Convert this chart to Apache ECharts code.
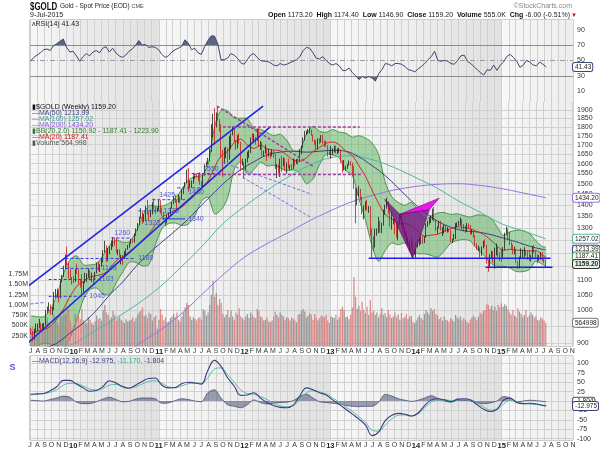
<!DOCTYPE html>
<html><head><meta charset="utf-8">
<script src="https://cdn.jsdelivr.net/npm/echarts@6/dist/echarts.min.js"></script>
<style>html,body{margin:0;padding:0;background:#fff}#c{width:600px;height:450px}</style>
</head><body><div id="c"></div><script>
// ---------- weekly OHLC [open, close, low, high], one row per week starting 2009-07-03 ----------
const ohlc2009 = [[940,932,925,945],[932,912,905,935],[912,937,910,942],[937,952,930,958],[952,954,935,958],
[954,956,944,972],[956,948,938,960],[948,953,935,958],[953,955,938,960],
[955,996,952,1000],[996,1006,990,1011],[1006,1010,996,1025],[1010,990,985,1018],
[990,1003,985,1010],[1003,1050,1000,1060],[1050,1052,1040,1070],[1052,1057,1040,1071],[1057,1040,1025,1064],
[1040,1096,1038,1100],[1096,1116,1094,1119],[1116,1146,1112,1153],[1146,1175,1140,1195],
[1175,1161,1155,1226],[1161,1119,1105,1166],[1119,1111,1105,1140],[1111,1104,1085,1112]];
const ohlc2010 = [[1104,1097,1090,1115],[1097,1138,1095,1140],[1138,1131,1123,1161],[1131,1090,1088,1140],[1090,1083,1075,1105],
[1083,1066,1045,1122],[1066,1093,1060,1097],[1093,1117,1090,1127],[1117,1118,1095,1125],
[1118,1134,1110,1143],[1134,1102,1100,1137],[1102,1107,1095,1128],[1107,1105,1088,1110],
[1105,1126,1100,1130],[1126,1162,1125,1165],[1162,1136,1133,1168],[1136,1154,1130,1158],[1154,1180,1149,1181],
[1180,1209,1165,1212],[1209,1228,1202,1249],[1228,1176,1166,1231],[1176,1212,1170,1220],
[1212,1218,1196,1227],[1218,1229,1212,1250],[1229,1257,1225,1264],[1257,1256,1230,1262],
[1256,1209,1202,1262],[1209,1210,1193,1215],[1210,1189,1185,1214],[1189,1189,1158,1195],[1189,1181,1157,1193],
[1181,1204,1178,1208],[1204,1216,1192,1218],[1216,1228,1213,1232],[1228,1236,1222,1242],
[1236,1250,1236,1257],[1250,1246,1240,1258],[1246,1276,1242,1278],[1276,1297,1269,1300],
[1297,1318,1290,1322],[1318,1346,1313,1349],[1346,1370,1341,1387],[1370,1328,1318,1375],[1328,1357,1326,1360],
[1357,1394,1330,1398],[1394,1367,1360,1424],[1367,1352,1330,1370],[1352,1363,1347,1380],
[1363,1405,1360,1414],[1405,1384,1380,1431],[1384,1378,1362,1393],[1378,1380,1370,1390],[1380,1421,1376,1424]];
const ohlc2011 = [[1421,1369,1363,1423],[1369,1361,1353,1390],[1361,1342,1338,1371],[1342,1341,1309,1345],
[1341,1348,1320,1358],[1348,1360,1344,1367],[1360,1388,1357,1390],[1388,1409,1385,1415],
[1409,1428,1405,1440],[1428,1421,1410,1446],[1421,1419,1382,1426],[1419,1429,1412,1448],
[1429,1428,1409,1440],[1428,1474,1425,1476],[1474,1486,1452,1487],[1486,1503,1484,1508],[1503,1556,1502,1569],
[1556,1491,1462,1577],[1491,1492,1480,1516],[1492,1510,1480,1516],[1510,1536,1500,1539],
[1536,1542,1522,1549],[1542,1540,1528,1548],[1540,1539,1512,1549],[1539,1502,1495,1557],
[1502,1484,1478,1512],[1484,1543,1482,1546],[1543,1594,1540,1597],[1594,1602,1582,1610],[1602,1628,1595,1630],
[1628,1663,1612,1680],[1663,1744,1660,1816],[1744,1852,1740,1877],[1852,1828,1702,1913],
[1828,1878,1797,1885],[1878,1856,1837,1921],[1856,1813,1771,1846],[1813,1657,1628,1817],[1657,1624,1534,1672],
[1624,1635,1599,1684],[1635,1683,1628,1689],[1683,1642,1604,1685],[1642,1744,1620,1747],
[1744,1755,1675,1764],[1755,1788,1752,1803],[1788,1725,1713,1790],[1725,1684,1672,1727],
[1684,1746,1680,1754],[1746,1714,1705,1763],[1714,1597,1562,1716],[1597,1606,1590,1625],[1606,1565,1523,1608]];
const ohlc2012 = [[1565,1616,1565,1626],[1616,1639,1606,1663],[1639,1665,1629,1671],[1665,1737,1655,1740],
[1737,1725,1722,1764],[1725,1725,1710,1760],[1725,1724,1701,1743],[1724,1776,1722,1790],
[1776,1710,1688,1792],[1710,1711,1672,1720],[1711,1657,1641,1713],[1657,1663,1637,1669],[1663,1669,1652,1700],
[1669,1640,1613,1678],[1640,1660,1636,1678],[1660,1642,1627,1662],[1642,1663,1638,1676],
[1663,1645,1632,1668],[1645,1580,1572,1650],[1580,1592,1527,1597],[1592,1573,1553,1596],
[1573,1622,1533,1626],[1622,1592,1560,1640],[1592,1627,1586,1632],[1627,1572,1563,1628],[1572,1604,1550,1606],
[1604,1579,1575,1626],[1579,1591,1566,1594],[1591,1584,1566,1598],[1584,1619,1572,1627],
[1619,1606,1588,1623],[1606,1622,1599,1624],[1622,1616,1595,1626],[1616,1672,1612,1675],[1672,1691,1648,1694],
[1691,1740,1684,1741],[1740,1770,1722,1777],[1770,1773,1753,1779],[1773,1774,1761,1788],
[1774,1781,1763,1796],[1781,1755,1750,1785],[1755,1722,1718,1757],[1722,1712,1700,1729],
[1712,1677,1673,1725],[1677,1730,1675,1735],[1730,1714,1705,1737],[1714,1751,1712,1754],[1751,1712,1705,1755],
[1712,1702,1687,1723],[1702,1696,1690,1723],[1696,1657,1636,1698],[1657,1656,1645,1665]];
const ohlc2013 = [[1656,1656,1626,1693],[1656,1661,1645,1680],[1661,1687,1658,1694],[1687,1657,1654,1695],
[1657,1667,1649,1679],[1667,1667,1656,1684],[1667,1609,1605,1675],[1609,1572,1555,1616],
[1572,1576,1565,1619],[1576,1578,1563,1590],[1578,1592,1573,1597],[1592,1608,1590,1616],[1608,1596,1590,1612],
[1596,1579,1539,1605],[1579,1476,1475,1590],[1476,1405,1321,1483],[1405,1462,1400,1477],
[1462,1469,1440,1488],[1469,1434,1422,1476],[1434,1365,1359,1440],[1365,1386,1338,1399],[1386,1393,1377,1418],
[1393,1383,1376,1424],[1383,1387,1366,1396],[1387,1297,1268,1395],[1297,1234,1180,1300],
[1234,1223,1207,1267],[1223,1278,1222,1298],[1278,1295,1270,1299],[1295,1323,1280,1349],
[1323,1310,1282,1332],[1310,1313,1280,1324],[1313,1370,1311,1380],[1370,1396,1358,1402],[1396,1396,1384,1434],
[1396,1387,1362,1418],[1387,1308,1306,1390],[1308,1326,1295,1370],[1326,1338,1317,1342],
[1338,1310,1276,1340],[1310,1272,1262,1322],[1272,1315,1251,1322],[1315,1352,1313,1361],
[1352,1315,1310,1360],[1315,1287,1276,1322],[1287,1288,1261,1297],[1288,1244,1240,1289],[1244,1250,1228,1262],
[1250,1231,1211,1253],[1231,1235,1221,1263],[1235,1204,1186,1246],[1204,1213,1194,1216]];
const ohlc2014 = [[1213,1238,1182,1241],[1238,1248,1223,1254],[1248,1254,1230,1259],[1254,1264,1235,1270],[1264,1244,1238,1272],
[1244,1263,1240,1268],[1263,1318,1262,1321],[1318,1323,1306,1332],[1323,1326,1315,1345],
[1326,1340,1323,1355],[1340,1379,1335,1385],[1379,1335,1327,1392],[1335,1294,1289,1339],
[1294,1303,1277,1307],[1303,1318,1299,1331],[1318,1294,1291,1332],[1294,1300,1268,1305],
[1300,1303,1278,1315],[1303,1289,1285,1315],[1289,1293,1282,1305],[1293,1292,1284,1298],[1292,1245,1243,1294],
[1245,1252,1240,1257],[1252,1274,1250,1277],[1274,1315,1256,1322],[1315,1317,1305,1325],
[1317,1320,1310,1332],[1320,1338,1311,1345],[1338,1309,1292,1338],[1309,1307,1287,1318],
[1307,1294,1281,1311],[1294,1310,1285,1322],[1310,1306,1299,1320],[1306,1280,1273,1314],[1280,1287,1275,1296],
[1287,1268,1262,1290],[1268,1230,1228,1272],[1230,1216,1214,1240],[1216,1218,1207,1230],
[1218,1192,1183,1223],[1192,1222,1190,1226],[1222,1238,1219,1249],[1238,1231,1225,1255],[1231,1171,1161,1232],
[1171,1169,1131,1175],[1169,1185,1145,1196],[1185,1201,1180,1209],[1201,1175,1164,1207],
[1175,1205,1142,1222],[1205,1222,1192,1238],[1222,1196,1186,1225],[1196,1195,1170,1205]];
const ohlc2015 = [[1195,1186,1167,1217],[1186,1216,1185,1224],[1216,1277,1212,1282],[1277,1293,1274,1307],[1293,1283,1251,1299],
[1283,1234,1232,1285],[1234,1228,1216,1245],[1228,1204,1196,1234],[1204,1213,1195,1225],
[1213,1168,1163,1217],[1168,1152,1142,1172],[1152,1182,1143,1187],[1182,1199,1178,1219],
[1199,1200,1180,1214],[1200,1207,1183,1224],[1207,1204,1190,1209],[1204,1178,1175,1207],
[1178,1174,1170,1210],[1174,1189,1169,1194],[1189,1225,1182,1228],[1225,1204,1201,1232],[1204,1190,1183,1210],
[1190,1168,1162,1196],[1168,1180,1171,1193],[1180,1201,1175,1205],[1201,1173,1170,1205],
[1173,1164,1162,1179],[1173.2,1159.2,1146.9,1174.4]];

// ---------- weekly volume (thousands) ----------
const vol2009 = [420,480,380,350,400,450,520,430,390,620,700,560,520,480,760,650,580,520,800,720,860,780,950,900,600,420];
const vol2010 = [500,780,700,720,650,900,620,580,560,700,640,560,520,600,740,650,680,620,880,1000,820,760,640,700,860,760,620,680,720,640,600,560,650,600,620,640,700,600,680,760,820,860,940,720,760,680,820,780,620,700,740,420,640];
const vol2011 = [900,760,620,700,580,600,680,720,780,700,820,640,600,720,820,940,1050,1000,720,640,700,660,620,680,700,640,900,860,740,820,1000,1250,1580,1200,1300,1000,1150,1050,780,700,760,880,700,860,720,640,820,760,920,720,680,640];
const vol2012 = [720,780,680,820,760,700,680,900,860,720,700,620,640,700,600,580,620,720,840,760,700,820,760,720,640,700,680,620,700,660,620,580,760,780,860,900,840,700,740,800,760,640,780,700,620,680,740,720,700,760,620,560];
const vol2013 = [720,700,680,760,640,700,900,960,880,700,720,660,760,940,1680,1200,900,980,860,1080,880,800,960,760,1120,820,860,760,820,700,780,920,760,800,700,880,760,680,720,820,700,760,640,800,680,700,780,660,720,740,600,560];
const vol2014 = [620,700,760,680,640,780,880,820,760,920,860,900,780,740,660,700,620,720,640,620,600,680,640,600,760,700,660,720,620,680,640,600,560,640,700,740,700,640,720,820,780,860,880,1020,1000,900,980,880,960,860,1000,940];
const vol2015 = [1040,960,1020,980,900,820,760,880,740,700,920,840,780,700,760,880,700,740,820,760,700,720,640,620,700,660,620,565];

// ---------- RSI(14), every 2nd week ----------
const rsi = [49,54,57,60,64,65,63,69,72,75,78,67,61,62,56,49,55,59,56,61,63,60,66,68,61,66,60,56,54,57,62,65,70,76,70,71,67,68,67,64,58,54,56,61,64,66,68,77,73,64,66,60,58,68,76,82,82,72,51,51,53,59,57,53,47,45,51,57,59,54,50,49,49,47,44,43,46,44,45,47,49,51,55,63,67,66,60,53,52,55,50,46,44,46,43,37,37,40,34,30,25,29,27,29,27,23,33,38,46,45,43,46,46,45,42,38,37,35,39,42,46,51,55,62,50,49,50,49,46,45,50,56,57,49,46,42,38,34,31,38,37,44,37,44,48,55,58,54,49,41,44,50,48,44,43,48,45,41.43];

// ---------- MACD(12,26,9), every 4th week, plus last week ----------
const macdLine = [18,19,20,27,38,55,55,45,35,26,28,38,54,48,38,34,42,52,60,61,42,35,36,46,50,48,45,82,108,92,62,40,15,16,22,8,-4,-12,-17,-18,-11,14,35,30,22,16,3,-9,-22,-35,-48,-64,-92,-82,-52,-38,-33,-35,-40,-32,-12,3,6,3,-2,5,6,3,-10,-22,-28,-22,2,8,-4,-7,-6,-8,-12];
const macdSignal = [16,18,20,23,30,42,47,46,40,32,29,33,42,44,40,35,38,45,52,54,47,38,35,40,46,48,47,62,85,88,70,50,30,20,18,12,4,-6,-13,-15,-12,3,22,27,24,19,8,-3,-16,-28,-42,-56,-78,-80,-64,-47,-38,-37,-40,-34,-18,-3,3,3,1,3,4,3,-5,-16,-24,-22,-8,2,-1,-7,-8,-9,-11];
const macdHist = [2,1,0,4,8,13,10,-3,-7,-7,-2,5,10,4,-2,-1,5,8,8,6,-6,-5,1,6,4,0,-2,22,30,8,-10,-14,-18,-10,3,-4,-8,-6,-4,-3,1,12,18,8,-2,-4,-6,-8,-12,-14,-15,-14,-14,-3,18,13,6,2,-1,2,8,14,7,0,-3,2,2,0,-5,-7,-5,0,12,8,-3,0,2,1,-1];
const macdLast = [-12.975, -11.170, -1.804];

// ---------- MA(20) and Bollinger Bands, every 4th week, plus last week ----------
const ma20 = [925,935,939,950,973,1006,1047,1080,1096,1112,1117,1123,1141,1172,1187,1206,1225,1252,1278,1316,1348,1364,1378,1392,1418,1445,1479,1515,1582,1640,1665,1712,1731,1698,1680,1697,1678,1671,1668,1645,1618,1612,1630,1663,1685,1709,1715,1700,1665,1642,1590,1537,1470,1409,1360,1340,1323,1320,1312,1288,1268,1272,1275,1288,1299,1306,1304,1298,1287,1275,1255,1231,1211,1215,1212,1211,1209,1210,1192];
const bbUpper = [981,979,979,1004,1053,1126,1177,1190,1156,1156,1161,1193,1231,1252,1243,1246,1285,1352,1398,1396,1396,1408,1434,1472,1518,1535,1539,1595,1802,1900,1895,1852,1851,1848,1790,1787,1768,1751,1758,1725,1668,1672,1760,1803,1775,1769,1785,1770,1765,1742,1750,1737,1710,1649,1510,1440,1413,1400,1412,1378,1338,1352,1365,1368,1359,1362,1354,1348,1357,1355,1345,1311,1271,1285,1292,1291,1279,1250,1226];
const bbLower = [869,891,899,896,893,886,917,970,1036,1068,1073,1053,1051,1092,1131,1166,1165,1152,1158,1236,1300,1320,1322,1312,1318,1355,1419,1435,1362,1380,1435,1572,1611,1548,1570,1607,1588,1591,1578,1565,1568,1552,1500,1523,1595,1649,1645,1630,1565,1542,1430,1337,1230,1169,1210,1240,1233,1240,1212,1198,1198,1192,1185,1208,1239,1250,1254,1248,1217,1195,1165,1151,1151,1145,1132,1131,1139,1170,1158];
const bbLast = [1223.90, 1187.41, 1150.92];

// ---------- MA(50) every 8th week; MA(100), MA(200) quarterly ----------
const ma50 = [880,885,900,930,960,1000,1050,1095,1150,1200,1245,1290,1340,1400,1460,1520,1570,1610,1645,1660,1665,1660,1665,1670,1665,1635,1590,1540,1480,1420,1370,1330,1305,1290,1285,1275,1260,1245,1228,1215];
const ma50Last = 1213.99;
const quarterDates = ['2009-07-01','2009-10-01','2010-01-01','2010-04-01','2010-07-01','2010-10-01','2011-01-01','2011-04-01','2011-07-01','2011-10-01','2012-01-01','2012-04-01','2012-07-01','2012-10-01','2013-01-01','2013-04-01','2013-07-01','2013-10-01','2014-01-01','2014-04-01','2014-07-01','2014-10-01','2015-01-01','2015-04-01','2015-07-10'];
const ma100 = [860,878,898,935,975,1020,1075,1145,1225,1320,1395,1465,1530,1590,1630,1640,1620,1580,1530,1480,1420,1370,1320,1290,1257.02];
const ma200 = [720,745,775,805,845,895,935,985,1050,1120,1185,1235,1280,1330,1375,1415,1445,1470,1487,1497,1500,1492,1477,1457,1434.20];

// ---------- drawn annotations (date, price) ----------
const channelLines = [[['2009-02-23',1009],['2012-03-20',1925]], [['2009-04-15',861],['2012-04-19',1800]]];
const dashedLevels = [[1260,'2010-06-11','2010-09-04'],[1180,'2009-11-27','2010-09-21'],[1143,'2009-11-06','2010-04-17'],[1103,'2009-09-16','2010-04-04'],[1045,'2009-09-16','2010-02-24'],[1425,'2010-12-03','2011-04-22'],[1375,'2010-10-04','2011-01-06'],[1480,'2011-03-19','2011-06-25'],[1550,'2011-05-21','2011-09-18']];
const solidLevel = [1340,'2011-01-14','2011-04-22'];
const levelLabels = [['1260','2010-07-28',1260,'top'],['1180','2010-09-21',1180,'right'],['1143','2010-04-17',1143,'right'],['1103','2010-04-04',1103,'right'],['1045','2010-02-24',1045,'right'],['1425','2011-02-05',1425,'top'],['1375','2011-01-06',1375,'right'],['1323','2010-12-03',1323,'inside'],['1340','2011-04-22',1340,'right'],['1480','2011-06-08',1480,'bottom'],['1550','2011-08-10',1550,'top']];
const purpleDashed = [[['2011-09-30',1800],['2013-05-07',1800]],[['2011-05-25',1545],['2013-05-20',1545]],[['2011-09-05',1925],['2012-10-19',1587]]];
const blueDashedDiag = [[['2011-09-26',1608],['2012-10-14',1450]],[['2011-12-24',1531],['2012-10-14',1344]],[['2009-02-23',1009],['2009-09-03',1025]]];
const supportLines = [[['2013-06-14',1181],['2015-07-31',1181]],[['2014-10-26',1147],['2015-08-08',1147]]];
const patternTris = [
  {pts:[['2013-08-22',1427],['2013-12-19',1181],['2013-10-25',1360]], fill:'rgba(120,20,130,0.8)'},
  {pts:[['2013-10-25',1360],['2013-12-19',1181],['2014-02-28',1380]], fill:'rgba(120,20,130,0.8)'},
  {pts:[['2013-10-25',1360],['2014-04-11',1432],['2014-02-28',1380]], fill:'rgba(240,0,240,0.9)'}
];

// ---------- axis tick labels ----------
const monthLetters = ['J','F','M','A','M','J','J','A','S','O','N','D'];
const priceTicks = [900,950,1000,1050,1100,1150,1200,1250,1300,1350,1400,1450,1500,1550,1600,1650,1700,1750,1800,1850,1900];
const volTicks = [250,500,750,1000,1250,1500,1750];
const rsiTicks = [10,30,50,70,90];
const macdTicks = [-100,-75,-50,-25,0,25,50,75,100];
const yearStarts = ['2009-07-01','2010-01-01','2011-01-01','2012-01-01','2013-01-01','2014-01-01','2015-01-01','2015-11-01'];

// ================= build =================
const DAY = 86400000;
const T = s => { const p = s.split('-').map(Number); return Date.UTC(p[0], p[1]-1, p[2]); };
const W0 = T('2009-07-03');
const wk = i => W0 + i*7*DAY;
const weeks = [].concat(ohlc2009, ohlc2010, ohlc2011, ohlc2012, ohlc2013, ohlc2014, ohlc2015);
const vols = [].concat(vol2009, vol2010, vol2011, vol2012, vol2013, vol2014, vol2015);
const NW = weeks.length;
const lastW = wk(NW-1);
const candleData = weeks.map((d,i)=>[wk(i), d[0], d[1], d[2], d[3]]);
const volData = vols.map((v,i)=>({value:[wk(i), v], itemStyle:{color:(i>0 && weeks[i][1] < weeks[i-1][1]) ? 'rgba(218,118,118,0.85)' : 'rgba(138,138,138,0.85)'}}));
const rsiData = rsi.map((v,i)=>[wk(2*i), v]);
const q4 = (arr, last) => { const r = arr.map((v,i)=>[wk(4*i), v]); if (last !== undefined) r.push([lastW, last]); return r; };
const macdData = q4(macdLine, macdLast[0]);
const sigData = q4(macdSignal, macdLast[1]);
const histData = q4(macdHist, macdLast[2]);
const ma20Data = q4(ma20, bbLast[1]);
const bbT = bbUpper.map((v,i)=>wk(4*i)).concat([lastW]);
const bbU = bbUpper.concat([bbLast[0]]);
const bbL = bbLower.concat([bbLast[2]]);
const ma50Data = ma50.map((v,i)=>[wk(8*i), v]).concat([[lastW, ma50Last]]);
const ma100Data = ma100.map((v,i)=>[T(quarterDates[i]), v]);
const ma200Data = ma200.map((v,i)=>[T(quarterDates[i]), v]);

const FONT = 'Liberation Sans, Arial, sans-serif';
const XMIN = T('2009-07-01'), XMAX = T('2015-11-01');
const G = {left:30, right:27};

// subtle alternating year shading
function bandSeries(xi, yi, yRef) {
  return {type:'custom', xAxisIndex:xi, yAxisIndex:yi, z:1, silent:true, clip:true,
    data:yearStarts.slice(0,-1).map(s=>[T(s), yRef]),
    renderItem:function(params, api){
      const k = params.dataIndex;
      const x0 = api.coord([T(yearStarts[k]), yRef])[0];
      const x1 = api.coord([T(yearStarts[k+1]), yRef])[0];
      const cs = params.coordSys;
      const even = (new Date(T(yearStarts[k])).getUTCFullYear()) % 2 === 0;
      return {type:'rect', shape:{x:x0, y:cs.y, width:x1-x0, height:cs.height},
        style:{fill:{type:'linear', x:0, y:0, x2:1, y2:0, colorStops: even ?
          [{offset:0, color:'#ececec'},{offset:1, color:'#e1e1e1'}] :
          [{offset:0, color:'#f7f7f7'},{offset:1, color:'#ededed'}]}}};
    }};
}

function xAxis(grid, showLabel) {
  return {type:'time', gridIndex:grid, min:XMIN, max:XMAX, splitNumber:76, maxInterval:32*DAY, z:2,
    axisLine:{show:false}, axisTick:{show:false},
    splitLine:{show:true, lineStyle:{color:'#d0d0d0', width:1}},
    axisLabel:{show:showLabel, margin:2, fontSize:7, color:'#333', fontFamily:FONT, showMaxLabel:false, hideOverlap:false,
      formatter:function(v){ const d=new Date(v); const m=d.getUTCMonth(); return m===0 ? '{y|'+String(d.getUTCFullYear()).slice(2)+'}' : monthLetters[m]; },
      rich:{y:{fontWeight:'bold', fontSize:7.5, color:'#222', fontFamily:FONT}}}};
}
function tag(v, text, border, opt) {
  opt = opt || {};
  return {yAxis:v, lineStyle:{color:'rgba(0,0,0,0)', width:0.01},
    label:{show:true, position:'end', distance:0, formatter:text, fontSize:6.5, fontFamily:FONT, color:opt.color||'#222', fontWeight:opt.bold?'bold':'normal',
      backgroundColor:opt.bg||'#fff', borderColor:border, borderWidth:1, borderRadius:2, padding:[1,1,0,2]}};
}
function mlTags(list){ return {silent:true, symbol:'none', animation:false, data:list}; }
function seg(pts, style, z) {
  return {type:'line', xAxisIndex:1, yAxisIndex:1, data:pts.map(p=>[T(p[0]), p[1]]), symbol:'none', clip:false, silent:true, lineStyle:style, z:z||7, animation:false};
}

const series = [];
// RSI
series.push({type:'line', xAxisIndex:0, yAxisIndex:0, data:rsiData, symbol:'none', lineStyle:{color:'#3c4870', width:1}, z:5,
  markLine:{silent:true, symbol:'none', animation:false, label:{show:false}, data:[
    {yAxis:70, lineStyle:{color:'#8c8c8c', width:1, type:'solid'}},
    {yAxis:30, lineStyle:{color:'#8c8c8c', width:1, type:'solid'}},
    {yAxis:50, lineStyle:{color:'#9a9a9a', width:1, type:[5,2,1,2]}},
    tag(41.43, '41.43', '#3c4870')]}});
series.push({type:'line', xAxisIndex:0, yAxisIndex:0, data:rsiData, symbol:'none', lineStyle:{width:0}, areaStyle:{origin:70, opacity:1}, z:4, silent:true});
series.push({type:'line', xAxisIndex:0, yAxisIndex:0, data:rsiData, symbol:'none', lineStyle:{width:0}, areaStyle:{origin:30, opacity:1}, z:4, silent:true});
// volume
series.push({type:'bar', xAxisIndex:1, yAxisIndex:2, data:volData, barWidth:1.25, z:3, silent:true,
  markLine:mlTags([tag(565, '564998', '#777')])});
// Bollinger band
series.push({type:'custom', xAxisIndex:1, yAxisIndex:1, z:3, clip:true, silent:true, data:[[W0, 1000]],
  renderItem:function(params, api){
    const up = bbT.map((t,k)=>api.coord([t, bbU[k]]));
    const lo = bbT.map((t,k)=>api.coord([t, bbL[k]]));
    return {type:'group', children:[
      {type:'polygon', shape:{points:up.concat(lo.slice().reverse()), smooth:0.3}, style:{fill:'rgba(104,180,104,0.55)', stroke:'none'}},
      {type:'polyline', shape:{points:up, smooth:0.3}, style:{stroke:'#4c944c', lineWidth:1, fill:'none'}},
      {type:'polyline', shape:{points:lo, smooth:0.3}, style:{stroke:'#4c944c', lineWidth:1, fill:'none'}}]};
  }});
// moving averages
series.push({type:'line', xAxisIndex:1, yAxisIndex:1, data:ma200Data, symbol:'none', smooth:0.4, lineStyle:{color:'#9b6fe0', width:1}, z:4, silent:true,
  markLine:mlTags([tag(1434.20, '1434.20', '#9b6fe0')])});
series.push({type:'line', xAxisIndex:1, yAxisIndex:1, data:ma100Data, symbol:'none', smooth:0.4, lineStyle:{color:'#4fb5a3', width:1}, z:4, silent:true,
  markLine:mlTags([tag(1257.02, '1257.02', '#4fb5a3')])});
series.push({type:'line', xAxisIndex:1, yAxisIndex:1, data:ma50Data, symbol:'none', smooth:0.4, lineStyle:{color:'#3b3f88', width:1}, z:4, silent:true,
  markLine:mlTags([tag(1213.99, '1213.99', '#3b3f88')])});
series.push({type:'line', xAxisIndex:1, yAxisIndex:1, data:ma20Data, symbol:'none', smooth:0.3, lineStyle:{color:'#d02828', width:1}, z:4, silent:true,
  markLine:mlTags([tag(1187.41, '1187.41', '#4c944c')])});
// candles
series.push({type:'candlestick', xAxisIndex:1, yAxisIndex:1, data:candleData, barWidth:1.3, z:5, silent:true,
  itemStyle:{color:'#1e1e1e', color0:'#d01818', borderColor:'#1e1e1e', borderColor0:'#d01818', borderWidth:0.8},
  markLine:mlTags([tag(1159.20, '1159.20', '#333', {bold:true, bg:'#e6f2e6'})])});
// annotations
channelLines.forEach(l=>series.push(seg(l, {color:'#2323e6', width:1.6})));
dashedLevels.forEach(l=>series.push(seg([[l[1],l[0]],[l[2],l[0]]], {color:'#3a3ae0', width:1, type:[3,2]})));
series.push(seg([[solidLevel[1],solidLevel[0]],[solidLevel[2],solidLevel[0]]], {color:'#2a2ae8', width:1}));
purpleDashed.forEach(l=>series.push(seg(l, {color:'#a03ca0', width:1.5, type:[3,2]})));
blueDashedDiag.forEach(l=>series.push(seg(l, {color:'#6a6af2', width:1, type:[3,2]})));
supportLines.forEach(l=>series.push(seg(l, {color:'#1c1cf0', width:1.6})));
series.push({type:'custom', xAxisIndex:1, yAxisIndex:1, z:6, silent:true, data:patternTris.map(t=>[T(t.pts[0][0]), t.pts[0][1]]),
  renderItem:function(params, api){ const tri = patternTris[params.dataIndex];
    return {type:'polygon', shape:{points:tri.pts.map(p=>api.coord([T(p[0]), p[1]]))}, style:{fill:tri.fill, stroke:'rgba(90,0,110,0.9)', lineWidth:0.6}}; }});
series.push({type:'scatter', xAxisIndex:1, yAxisIndex:1, z:8, silent:true, symbolSize:0, clip:false,
  data:levelLabels.map(l=>({value:[T(l[1]), l[2]], label:{position:l[3], formatter:l[0], distance:l[3]==='right'?3:1}})),
  label:{show:true, fontSize:7, color:'#3535d8', fontFamily:FONT}});
series.push({type:'scatter', xAxisIndex:1, yAxisIndex:1, z:8, silent:true, symbolSize:0, clip:false,
  data:[{value:[T(channelLines[1][0][0]), channelLines[1][0][1]], label:{formatter:'S'}}],
  label:{show:true, position:'bottom', distance:6, fontSize:9, fontWeight:'bold', color:'#2323e6', fontFamily:FONT}});
// MACD
series.push({type:'line', xAxisIndex:2, yAxisIndex:3, data:histData, symbol:'none', smooth:0.3, lineStyle:{color:'#4a5275', width:0.8}, areaStyle:{origin:0, color:'rgba(70,78,112,0.75)'}, z:4, silent:true,
  markLine:mlTags([tag(-1.804, '-1.804', '#4a5275')])});
series.push({type:'line', xAxisIndex:2, yAxisIndex:3, data:sigData, symbol:'none', smooth:0.4, lineStyle:{color:'#5cbcaa', width:1}, z:5, silent:true});
series.push({type:'line', xAxisIndex:2, yAxisIndex:3, data:macdData, symbol:'none', smooth:0.4, lineStyle:{color:'#3a3f7e', width:1.1}, z:6, silent:true,
  markLine:mlTags([tag(-12.975, '-12.975', '#3a3f7e')])});
// year shading
series.push(bandSeries(0,0,50), bandSeries(1,1,1000), bandSeries(2,3,0));

const yLab = {fontSize:7, color:'#333', margin:4, fontFamily:FONT, showMinLabel:true, showMaxLabel:true};
const option = {
  useUTC:true, animation:false, backgroundColor:'#fff',
  textStyle:{fontFamily:FONT},
  grid:[
    Object.assign({top:20, height:82, show:true, backgroundColor:'#efefef', borderColor:'#9a9a9a', borderWidth:1}, G),
    Object.assign({top:102, height:244, show:true, backgroundColor:'#efefef', borderColor:'#9a9a9a', borderWidth:1}, G),
    Object.assign({top:356, height:84, show:true, backgroundColor:'#efefef', borderColor:'#9a9a9a', borderWidth:1}, G)
  ],
  xAxis:[xAxis(0,false), xAxis(1,true), xAxis(2,true)],
  yAxis:[
    {type:'value', gridIndex:0, position:'right', z:2, min:-4.3, max:102.9, axisLine:{show:false}, axisTick:{show:false, customValues:rsiTicks}, splitLine:{show:false},
      axisLabel:Object.assign({customValues:rsiTicks}, yLab)},
    {type:'log', gridIndex:1, position:'right', z:2, min:891, max:1950, axisLine:{show:false}, axisTick:{show:false, customValues:priceTicks},
      splitLine:{show:true, lineStyle:{color:'#d0d0d0'}}, axisLabel:Object.assign({customValues:priceTicks, formatter:v=>String(Math.round(v))}, yLab)},
    {type:'value', gridIndex:1, position:'left', z:2, min:0, max:5951, axisLine:{show:false}, axisTick:{show:false, customValues:volTicks}, splitLine:{show:false},
      axisLabel:Object.assign({}, yLab, {margin:2, customValues:volTicks, formatter:v=> v>=1000 ? (v/1000).toFixed(2)+'M' : v+'K'})},
    {type:'value', gridIndex:2, position:'right', z:2, min:-103.7, max:119.7, axisLine:{show:false}, axisTick:{show:false, customValues:macdTicks},
      splitLine:{show:true, lineStyle:{color:'#d0d0d0'}}, axisLabel:Object.assign({customValues:macdTicks}, yLab)}
  ],
  visualMap:[
    {type:'piecewise', show:false, seriesIndex:1, dimension:1, pieces:[{min:70, max:200, color:'#5d6585'},{min:-100, max:70, color:'rgba(93,101,133,0)'}]},
    {type:'piecewise', show:false, seriesIndex:2, dimension:1, pieces:[{min:-100, max:30, color:'#5d6585'},{min:30, max:200, color:'rgba(93,101,133,0)'}]}
  ],
  series:series,
  graphic:[
    {type:'text', x:30, y:1, z:100, scaleX:0.72, style:{text:'$GOLD', fontSize:11, fontWeight:'bold', fontFamily:FONT, fill:'#111'}},
    {type:'text', x:60, y:3, z:100, style:{text:'Gold - Spot Price (EOD) {s|CME}', fontSize:6.5, fontFamily:FONT, fill:'#222', rich:{s:{fontSize:5.5, fill:'#444', fontFamily:FONT}}}},
    {type:'text', x:30, y:12, z:100, style:{text:'9-Jul-2015', fontSize:7, fontFamily:FONT, fill:'#222'}},
    {type:'text', x:572, y:3, z:100, style:{text:'\u00A9StockCharts.com', fontSize:7, fontFamily:FONT, fill:'#888', align:'right'}},
    {type:'text', x:570, y:12, z:100, style:{text:'{b|Open} 1173.20  {b|High} 1174.40  {b|Low} 1146.90  {b|Close} 1159.20  {b|Volume} 555.0K  {b|Chg} -6.00 (-0.51%)', fontSize:7, fontFamily:FONT, fill:'#222', align:'right', rich:{b:{fontWeight:'bold', fontSize:7, fontFamily:FONT, fill:'#111'}}}},
    {type:'text', x:571, y:12, z:100, style:{text:'\u25BC', fontSize:6, fontFamily:FONT, fill:'#d01010'}},
    {type:'text', x:32, y:21, z:100, style:{text:'\u028CRSI(14) 41.43', fontSize:7, fontFamily:FONT, fill:'#222'}},
    {type:'text', x:32, y:104, z:100, style:{text:'\u25AE$GOLD (Weekly) 1159.20', fontSize:7, fontFamily:FONT, fill:'#111'}},
    {type:'text', x:32, y:110, z:100, style:{text:'\u2014MA(50) 1213.99', fontSize:7, fontFamily:FONT, fill:'#3b3f88'}},
    {type:'text', x:32, y:116, z:100, style:{text:'\u2014MA(100) 1257.02', fontSize:7, fontFamily:FONT, fill:'#3a9e8e'}},
    {type:'text', x:32, y:122, z:100, style:{text:'\u2014MA(200) 1434.20', fontSize:7, fontFamily:FONT, fill:'#8a5ad6'}},
    {type:'text', x:32, y:128, z:100, style:{text:'\u25AEBB(20,2.0) 1150.92 - 1187.41 - 1223.90', fontSize:7, fontFamily:FONT, fill:'#2f7a2f'}},
    {type:'text', x:32, y:134, z:100, style:{text:'\u2014MA(20) 1187.41', fontSize:7, fontFamily:FONT, fill:'#c82020'}},
    {type:'text', x:32, y:140, z:100, style:{text:'\u25AEVolume 564,998', fontSize:7, fontFamily:FONT, fill:'#555'}},
    {type:'text', x:32, y:358, z:100, style:{text:'\u2014MACD(12,26,9) -12.975, {t|-11.170,} -1.804', fontSize:7, fontFamily:FONT, fill:'#3a3f7e', rich:{t:{fill:'#3aa894', fontSize:7, fontFamily:FONT}}}}
  ]
};
const chart = echarts.init(document.getElementById('c'), null, {renderer:'canvas'});
chart.setOption(option);
</script></body></html>
